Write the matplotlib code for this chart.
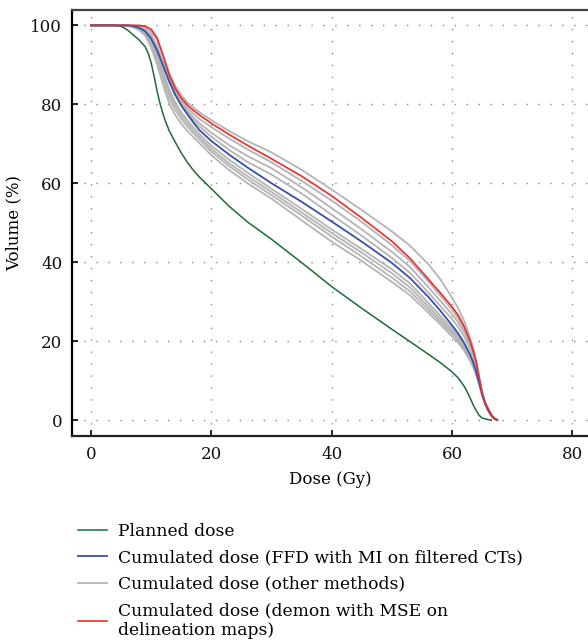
import matplotlib
matplotlib.use("Agg")
import matplotlib.pyplot as plt
from matplotlib.lines import Line2D

# ---------------- data ----------------
planned_dose = [0, 4, 5, 6, 7, 8, 9, 9.5, 10, 10.5, 11, 11.5, 12, 12.5, 13, 14, 15, 16, 17,
                18, 20, 23, 26, 30, 35, 40, 45, 50, 55, 58, 60, 61, 62, 62.5, 63, 63.5, 64,
                64.5, 65, 66, 66.5]
planned_vol = [100, 100, 99.8, 98.9, 97.6, 96.3, 94.6, 93.0, 90.5, 87.0, 83.2, 80.0, 77.4,
               75.2, 73.3, 70.4, 67.7, 65.3, 63.3, 61.6, 58.6, 54.1, 50.2, 45.8, 39.9, 33.8,
               28.3, 23.0, 17.8, 14.6, 12.2, 10.7, 8.6, 7.2, 5.6, 3.9, 2.4, 1.2, 0.5, 0.1, 0]

dose = [0, 6, 7, 8, 9, 10, 11, 12, 13, 14, 15, 16, 17, 18, 20, 23, 26, 30, 35, 40, 45, 50,
        53, 56, 58, 60, 61, 62, 63, 63.5, 64, 64.5, 65, 65.5, 66, 66.5, 67, 67.5]

ffd_mi_vol = [100, 100, 99.8, 99.4, 98.5, 96.6, 93.6, 89.7, 85.8, 82.4, 79.7, 77.5, 75.4,
              73.5, 70.7, 67.2, 64.0, 60.0, 55.3, 50.3, 45.2, 39.8, 36.0, 31.3, 27.8, 24.0,
              22.0, 19.6, 16.6, 14.7, 12.3, 9.5, 6.6, 4.2, 2.5, 1.2, 0.4, 0]

demon_mse_vol = [100, 100, 100, 100, 99.8, 99.0, 96.8, 92.2, 87.4, 84.0, 81.6, 79.8, 78.5,
                 77.3, 75.2, 72.3, 69.6, 66.2, 61.8, 56.8, 51.2, 45.3, 41.0, 35.8, 32.3,
                 28.7, 26.6, 23.8, 20.0, 17.6, 14.8, 10.8, 6.8, 4.3, 2.8, 1.4, 0.4, 0]

other_vols = [
    [100, 100, 100, 99.8, 99.4, 98.4, 96.2, 92.4, 88.0, 84.7, 82.3, 80.5, 79.2, 78.0, 76.0,
     73.2, 70.7, 67.8, 63.4, 58.4, 53.2, 47.8, 44.2, 39.6, 35.8, 31.0, 28.4, 25.2, 21.0,
     18.4, 15.2, 11.2, 7.2, 4.5, 2.9, 1.5, 0.5, 0],
    [100, 100, 99.9, 99.6, 99.0, 97.6, 94.8, 90.6, 86.4, 83.2, 80.9, 79.1, 77.6, 76.3, 74.2,
     71.3, 68.6, 65.3, 60.6, 55.6, 50.2, 44.3, 40.3, 35.2, 31.6, 28.0, 25.8, 23.1, 19.5,
     17.2, 14.4, 10.8, 7.0, 4.4, 2.8, 1.4, 0.5, 0],
    [100, 100, 99.9, 99.5, 98.7, 97.0, 94.0, 90.0, 85.8, 82.6, 80.3, 78.4, 76.7, 75.2, 72.8,
     69.6, 66.9, 63.8, 59.0, 53.7, 48.3, 42.6, 38.8, 33.8, 30.3, 26.8, 24.8, 22.3, 18.9,
     16.8, 14.0, 10.5, 6.9, 4.4, 2.8, 1.4, 0.5, 0],
    [100, 100, 99.8, 99.4, 98.6, 96.8, 93.8, 89.8, 85.7, 82.4, 80.0, 78.0, 76.0, 74.4, 71.8,
     68.4, 65.4, 62.2, 57.4, 52.0, 46.7, 41.1, 37.3, 32.4, 29.0, 25.6, 23.6, 21.2, 18.0,
     16.0, 13.4, 10.2, 6.8, 4.3, 2.7, 1.3, 0.4, 0],
    [100, 100, 99.7, 99.2, 98.2, 96.0, 92.6, 88.2, 83.8, 80.5, 78.0, 76.0, 74.2, 72.5, 69.5,
     65.9, 62.7, 58.6, 53.5, 48.3, 43.3, 38.2, 34.6, 29.8, 26.5, 23.2, 21.3, 19.0, 16.0,
     14.2, 12.0, 9.4, 6.5, 4.2, 2.5, 1.2, 0.4, 0],
    [100, 100, 99.7, 99.1, 98.0, 95.6, 92.0, 87.4, 82.8, 79.6, 77.2, 75.2, 73.4, 71.8, 68.7,
     65.0, 61.8, 57.8, 52.6, 47.4, 42.4, 37.2, 33.6, 28.9, 25.7, 22.5, 20.7, 18.5, 15.7,
     14.0, 11.8, 9.3, 6.4, 4.1, 2.5, 1.2, 0.4, 0],
    [100, 100, 99.6, 99.0, 97.8, 95.2, 91.2, 86.2, 81.6, 78.6, 76.3, 74.4, 72.7, 71.1, 68.0,
     64.3, 61.0, 57.0, 51.8, 46.5, 41.4, 36.1, 32.6, 28.1, 25.0, 21.9, 20.2, 18.1, 15.4,
     13.8, 11.6, 9.2, 6.3, 4.1, 2.5, 1.2, 0.4, 0],
    [100, 100, 99.5, 98.8, 97.4, 94.4, 90.0, 84.8, 80.2, 77.3, 75.1, 73.3, 71.7, 70.2, 67.1,
     63.3, 60.0, 56.1, 50.6, 45.2, 40.3, 35.0, 31.6, 27.3, 24.3, 21.2, 19.6, 17.6, 15.0,
     13.5, 11.4, 9.0, 6.2, 4.0, 2.4, 1.2, 0.4, 0],
]

labels = ["Planned dose",
          "Cumulated dose (FFD with MI on filtered CTs)",
          "Cumulated dose (other methods)",
          "Cumulated dose (demon with MSE on\ndelineation maps)"]

x_ticks = [0, 20, 40, 60, 80]
y_ticks = [0, 20, 40, 60, 80, 100]

# ---------------- style ----------------
plt.rcParams['font.family'] = ['DejaVu Serif']
plt.rcParams['font.size'] = 12

fig = plt.figure(figsize=(5.88, 6.43), dpi=100)
ax = fig.add_axes([72/588, 1-436/643, 1-72/588, (436-10)/643])

c_green = "#1d6b36"
c_blue = "#3550a8"
c_gray = "#b4b4b4"
c_red = "#ee2a2a"

for v in other_vols:
    ax.plot(dose, v, color=c_gray, lw=1.3, zorder=2, solid_joinstyle='round')
l_green, = ax.plot(planned_dose, planned_vol, color=c_green, lw=1.1, zorder=3)
l_blue, = ax.plot(dose, ffd_mi_vol, color=c_blue, lw=1.3, zorder=4)
l_red, = ax.plot(dose, demon_mse_vol, color=c_red, lw=1.2, zorder=5)
l_gray = Line2D([], [], color=c_gray, lw=1.3)

ax.set_xlim(-3.16, 82.6)
ax.set_ylim(-4.05, 103.9)
ax.set_xticks(x_ticks)
ax.set_yticks(y_ticks)
ax.tick_params(direction='in', length=4, width=1.2, color='black', labelcolor='#111')
ax.tick_params(axis='x', pad=7)
ax.tick_params(axis='y', pad=7)

ax.grid(True, color='#888888', lw=1.0, linestyle=(0, (1, 7.6)))
ax.spines['right'].set_visible(False)
for s in ['left', 'bottom', 'top']:
    ax.spines[s].set_linewidth(1.6)
ax.spines['left'].set_color('black')
ax.spines['bottom'].set_color('#222222')
ax.spines['top'].set_color('#444444')

ax.set_xlabel("Dose (Gy)", labelpad=6)
ax.set_ylabel("Volume (%)", labelpad=6)

leg = fig.legend([l_green, l_blue, l_gray, l_red], labels,
                 loc='upper left', bbox_to_anchor=(78/588, 1-523/643),
                 frameon=False, borderpad=0, borderaxespad=0, fontsize=12.3,
                 handlelength=1.7, handletextpad=0.65, labelspacing=0.55)

fig.savefig("out.png", dpi=100)
